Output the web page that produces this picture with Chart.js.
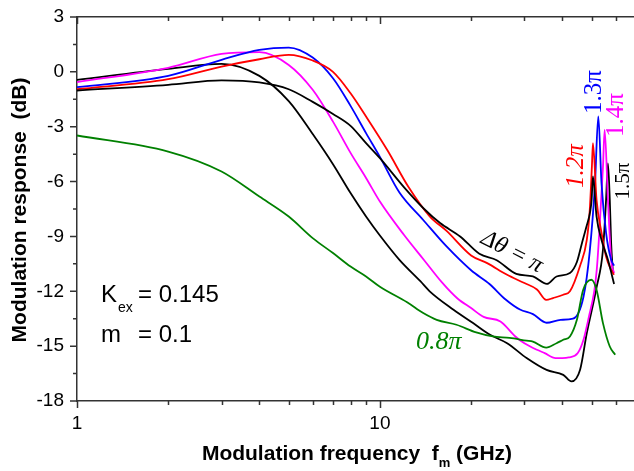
<!DOCTYPE html>
<html>
<head>
<meta charset="utf-8">
<script src="https://cdn.jsdelivr.net/npm/chart.js@4.4.0/dist/chart.umd.min.js"></script>
<style>
html, body { margin: 0; padding: 0; background: #fff; }
</style>
</head>
<body>
<canvas id="cvs" width="634" height="471"></canvas>
<script>
// modulation response vs frequency, one pair of arrays per phase shift
var freqPi  = [1,2,3,4,5,6,7,8,9,10,12,14,15.8,18.4,21.3,24.3,28.2,32,35.6,38.3,42.4,44.7,46.4,48,49.5,50,50.5,51.9,53.9,56.6,59.3]
var dbPi    = [-1.02,-0.71,-0.47,-0.58,-0.95,-1.64,-2.3,-2.95,-3.9,-4.72,-6.3,-7.5,-8.27,-9.0,-9.95,-10.3,-11.05,-11.19,-11.6,-11.19,-11.0,-10.4,-9.4,-8.5,-7.6,-7.0,-5.72,-7.9,-9.19,-10.28,-11.6]

var freq12  = [1,2,3,4,5,6,7,8,9,10.6,12.4,14.6,16.6,20,22.6,26.3,30,33,35.4,37.3,40.3,42.4,45.8,48.2,49.3,50.1,50.5,51.9,53.9,55.8,58,59.3]
var db12    = [-0.95,-0.4,0.29,0.69,0.93,0.62,0.0,-1.17,-2.44,-4.3,-6.27,-7.9,-8.7,-10.04,-10.46,-11.1,-11.55,-11.9,-12.47,-12.37,-12.19,-12.0,-10.6,-9.19,-7.55,-5.18,-3.9,-7.0,-8.8,-10.1,-10.83,-11.1]

var freq13  = [1,2,3,4,5,6,7,8,9,10,11.6,13.9,16.6,20,23,26,29,32,35.5,39.5,43.4,47,49.3,51.3,52.6,53.9,55.8,58,59.3]
var db13    = [-0.84,-0.22,0.66,1.2,1.33,0.78,-0.35,-1.86,-3.35,-4.65,-6.6,-8.1,-9.55,-10.85,-11.6,-12.45,-13.0,-13.25,-13.72,-13.56,-13.5,-12.3,-9.8,-6.1,-2.44,-6.1,-8.8,-10.28,-10.6]

var freq14  = [1,2,3,4,5,6,7,8,9,10,12,14,16,18,20,22,25,28,30,33,35,38,40,42,45,47,49,51,52,53,54.5,55.2,56.6,58,59.3]
var db14    = [-0.56,0.22,0.98,1.08,0.38,-0.98,-2.72,-4.43,-5.8,-7.09,-8.91,-10.3,-11.5,-12.38,-12.92,-13.4,-13.65,-14.47,-14.84,-15.2,-15.38,-15.65,-15.65,-15.62,-15.38,-14.65,-13.38,-12.0,-10.8,-8.8,-5.2,-3.17,-7.0,-10.28,-11.0]

var freq15  = [1,2,3,4,5,6,7,8,9,10,11.6,13.6,14.6,17.5,20.3,23.1,26.3,30.5,35.5,40.3,42.9,45.8,48.2,51.9,54.5,55.8,56.6,57.4,58,58.8]
var db15    = [-0.44,0.16,0.44,-0.22,-1.6,-3.4,-5.05,-6.63,-7.91,-8.95,-10.28,-11.45,-12.0,-13.01,-13.74,-14.38,-14.84,-15.65,-16.3,-16.57,-16.93,-16.29,-14.29,-11.8,-9.73,-7.0,-5.0,-7.0,-9.37,-11.0]

var freq08  = [1,2,3,4,5,6,7,8,9,10,12.3,13.9,15.4,17.9,20.8,23.6,26.8,30.5,32,35.4,38.3,40.3,42.4,44.7,46.9,49.9,51.9,54.5,57.4,59.8]
var db08    = [-3.48,-4.36,-5.45,-6.82,-7.91,-9.09,-9.91,-10.65,-11.19,-11.75,-12.6,-13.19,-13.56,-13.83,-14.25,-14.47,-14.55,-14.7,-14.75,-15.08,-14.84,-14.65,-14.47,-13.56,-11.92,-11.37,-11.92,-13.74,-15.02,-15.47]

var xLabelTicks = [1, 10]
var xMinorTicks = [2,3,4,5,6,7,8,9,20,30,40,50,60]
var yMinorTicks = [-16.5,-13.5,-10.5,-7.5,-4.5,-1.5,1.5]

var SANS = "'Liberation Sans', Arial, sans-serif"
var SERIF = "'Liberation Serif', 'Times New Roman', serif"
var AXIS = '#333'

function pts(fs, vs){
	return fs.map(function(f, i){ return {x: f, y: vs[i]} })
}
function line(label, fs, vs, color){
	return {
		label: label,
		data: pts(fs, vs),
		borderColor: color,
		backgroundColor: color,
		borderWidth: 1.8,
		pointRadius: 0,
		fill: false,
		cubicInterpolationMode: 'monotone'
	}
}

var frame = {
	id: 'frame',
	afterDraw: function(chart){
		var ctx = chart.ctx, a = chart.chartArea
		var xs = chart.scales.x, ys = chart.scales.y
		ctx.save()
		ctx.strokeStyle = AXIS
		ctx.lineWidth = 1.5

		// bottom (outward) and top (inward) ticks
		ctx.beginPath()
		xLabelTicks.concat(xMinorTicks).forEach(function(t){
			var px = Math.round(xs.getPixelForValue(t)) + 0.5
			var len = xLabelTicks.indexOf(t) >= 0 ? 7 : 4
			ctx.moveTo(px, a.bottom); ctx.lineTo(px, a.bottom + len)
			ctx.moveTo(px, a.top); ctx.lineTo(px, a.top + len)
		})
		// left ticks
		for (var v = -18; v <= 3; v += 3){
			var py = ys.getPixelForValue(v)
			ctx.moveTo(a.left - 7, py); ctx.lineTo(a.left, py)
		}
		yMinorTicks.forEach(function(t){
			var py = ys.getPixelForValue(t)
			ctx.moveTo(a.left - 4, py); ctx.lineTo(a.left, py)
		})
		ctx.stroke()

		ctx.fillStyle = '#000'
		// y title
		ctx.save()
		ctx.translate(26, 210)
		ctx.rotate(-Math.PI / 2)
		ctx.font = 'bold 21px ' + SANS
		ctx.textAlign = 'center'
		ctx.textBaseline = 'alphabetic'
		ctx.fillText('Modulation response  (dB)', 0, 0)
		ctx.restore()

		// x title with subscript
		ctx.textBaseline = 'alphabetic'
		ctx.textAlign = 'left'
		ctx.font = 'bold 21px ' + SANS
		var t1 = 'Modulation frequency  f', t3 = ' (GHz)'
		var w1 = ctx.measureText(t1).width, w3 = ctx.measureText(t3).width
		ctx.font = 'bold 13px ' + SANS
		var w2 = ctx.measureText('m').width
		var x0 = 357 - (w1 + w2 + w3) / 2
		ctx.font = 'bold 21px ' + SANS
		ctx.fillText(t1, x0, 460)
		ctx.fillText(t3, x0 + w1 + w2, 460)
		ctx.font = 'bold 13px ' + SANS
		ctx.fillText('m', x0 + w1, 467)

		// parameters
		ctx.font = '24px ' + SANS
		ctx.fillText('K', 101, 302)
		ctx.fillText('= 0.145', 138, 302)
		ctx.fillText('m', 101, 342)
		ctx.fillText('= 0.1', 138, 342)
		ctx.font = '14px ' + SANS
		ctx.fillText('ex', 118, 312)

		// curve labels
		ctx.font = 'italic 26px ' + SERIF
		ctx.fillStyle = '#008000'
		ctx.fillText('0.8\u03c0', 416, 349)

		ctx.save()
		ctx.fillStyle = '#000'
		ctx.translate(512, 252)
		ctx.rotate(27 * Math.PI / 180)
		ctx.font = 'italic 24px ' + SERIF
		ctx.textAlign = 'center'
		ctx.textBaseline = 'middle'
		ctx.fillText('\u0394\u03b8 = \u03c0', 0, 0)
		ctx.restore()

		var vert = [
			['1.2\u03c0', '#ff0000', 583, 166, 'italic 25px '],
			['1.3\u03c0', '#0000ff', 601, 92, '25px '],
			['1.4\u03c0', '#ff00ff', 623, 115, '25px '],
			['1.5\u03c0', '#000000', 629, 181, '21px ']
		]
		vert.forEach(function(l){
			ctx.save()
			ctx.translate(l[2], l[3])
			ctx.rotate(-Math.PI / 2)
			ctx.fillStyle = l[1]
			ctx.font = l[4] + SERIF
			ctx.textAlign = 'center'
			ctx.textBaseline = 'alphabetic'
			ctx.fillText(l[0], 0, 0)
			ctx.restore()
		})
		ctx.restore()
	}
}

var ctx = document.getElementById('cvs').getContext('2d')
var chart = new Chart(ctx, {
	type: 'line',
	data: {
		datasets: [
			line('0.8\u03c0', freq08, db08, '#008000'),
			line('\u03c0', freqPi, dbPi, '#000000'),
			line('1.2\u03c0', freq12, db12, '#ff0000'),
			line('1.3\u03c0', freq13, db13, '#0000ff'),
			line('1.4\u03c0', freq14, db14, '#ff00ff'),
			line('1.5\u03c0', freq15, db15, '#000000')
		]
	},
	options: {
		responsive: false,
		animation: false,
		layout: { padding: { left: 0, top: 17, right: 0, bottom: 0 } },
		plugins: { legend: { display: false }, tooltip: { enabled: false } },
		scales: {
			x: {
				type: 'logarithmic',
				min: 1,
				max: 69,
				grid: { display: false, drawTicks: true, tickLength: 11 },
				border: { display: true, color: AXIS, width: 1.5 },
				ticks: {
					autoSkip: false,
					maxRotation: 0,
					padding: 0,
					color: '#000',
					font: { family: SANS, size: 19 },
					callback: function(v){ return xLabelTicks.indexOf(v) >= 0 ? String(v) : '' }
				},
				afterFit: function(s){ s.height = 70 }
			},
			xTop: {
				type: 'logarithmic',
				position: 'top',
				min: 1,
				max: 69,
				grid: { display: false, drawTicks: false },
				border: { display: true, color: AXIS, width: 1.5 },
				ticks: { display: false, padding: 0 },
				afterFit: function(s){ s.height = 0 }
			},
			y: {
				min: -18,
				max: 3,
				grid: { display: false, drawTicks: true, tickLength: 13 },
				border: { display: true, color: AXIS, width: 1.5 },
				ticks: {
					stepSize: 3,
					padding: 0,
					color: '#000',
					font: { family: SANS, size: 19 }
				},
				afterFit: function(s){ s.width = 77 }
			}
		}
	},
	plugins: [frame]
})
</script>
</body>
</html>
